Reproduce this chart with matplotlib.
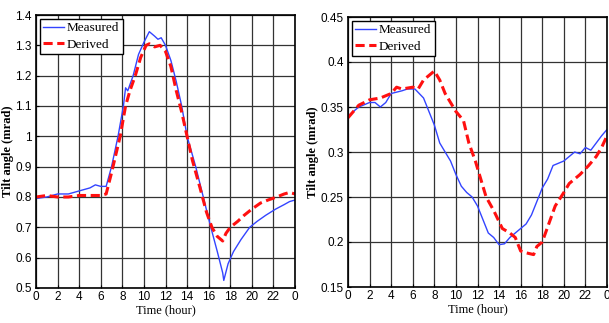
import matplotlib
matplotlib.use("Agg")
import matplotlib.pyplot as plt
from matplotlib import font_manager

# ---------------- data ----------------
hours_ticks = [0, 2, 4, 6, 8, 10, 12, 14, 16, 18, 20, 22, 24]
hour_tick_labels = ["0", "2", "4", "6", "8", "10", "12", "14", "16", "18", "20", "22", "0"]

left_meas_t = [0, 1, 2, 3, 4, 5, 5.5, 6, 6.5, 7, 7.6, 8.1, 8.3, 8.5, 9, 9.5, 10, 10.5,
               11, 11.3, 11.6, 12, 12.5, 13, 13.5, 14, 14.8, 15.5, 16.2, 16.8, 17.3,
               17.4, 17.8, 18.3, 19, 19.8, 20.5, 21.3, 22.2, 23, 23.5, 24]
left_meas_v = [0.795, 0.80, 0.81, 0.81, 0.82, 0.83, 0.84, 0.835, 0.835, 0.90, 1.0, 1.10,
               1.16, 1.15, 1.20, 1.27, 1.31, 1.345, 1.33, 1.32, 1.325, 1.30, 1.25, 1.18,
               1.10, 1.0, 0.90, 0.80, 0.70, 0.62, 0.55, 0.525, 0.58, 0.62, 0.66, 0.70,
               0.72, 0.74, 0.76, 0.775, 0.785, 0.79]

left_der_t = [0, 1, 2, 3, 4, 5, 6, 6.5, 7, 7.8, 8.3, 8.7, 9.2, 9.7, 10.2, 10.5, 11, 11.5,
              12, 12.5, 13, 13.5, 14, 14.5, 15.2, 15.8, 16.3, 16.8, 17.3, 17.6, 18, 18.7,
              19.3, 20, 20.8, 21.5, 22.3, 23, 23.5, 24]
left_der_v = [0.80, 0.805, 0.80, 0.80, 0.805, 0.805, 0.805, 0.81, 0.88, 1.0, 1.10, 1.15,
              1.20, 1.26, 1.30, 1.305, 1.295, 1.30, 1.28, 1.23, 1.15, 1.08, 1.0, 0.92,
              0.83, 0.75, 0.70, 0.67, 0.655, 0.68, 0.70, 0.72, 0.74, 0.76, 0.78, 0.79,
              0.80, 0.81, 0.815, 0.81]

right_meas_t = [0, 0.5, 1, 2, 2.5, 3, 3.5, 4, 5, 5.5, 6.2, 7, 7.5, 8, 8.5, 9, 9.5, 10,
                10.5, 11, 11.5, 12, 12.5, 13, 13.5, 14, 14.5, 15, 15.5, 16, 16.5, 17,
                17.5, 18, 18.5, 19, 20, 20.5, 21, 21.5, 22, 22.5, 23, 23.5, 24]
right_meas_v = [0.340, 0.345, 0.350, 0.355, 0.355, 0.350, 0.355, 0.365, 0.368, 0.370,
                0.370, 0.360, 0.345, 0.330, 0.310, 0.300, 0.290, 0.275, 0.262, 0.255,
                0.250, 0.240, 0.225, 0.210, 0.205, 0.197, 0.198, 0.205, 0.210, 0.215,
                0.220, 0.230, 0.245, 0.260, 0.270, 0.285, 0.290, 0.295, 0.300, 0.298,
                0.305, 0.302, 0.310, 0.318, 0.325]

right_der_t = [0, 0.5, 1, 2, 3, 4, 4.5, 5, 6, 6.5, 7, 7.5, 8, 8.5, 9, 9.5, 10, 10.7,
               11.2, 11.8, 12.3, 12.8, 13.5, 14.3, 15, 15.5, 16, 16.5, 17.2, 17.5, 18,
               18.6, 19.2, 20, 20.5, 21.5, 22.3, 23, 23.5, 24]
right_der_v = [0.338, 0.345, 0.352, 0.358, 0.360, 0.365, 0.372, 0.370, 0.372, 0.370,
               0.380, 0.385, 0.390, 0.380, 0.365, 0.355, 0.345, 0.335, 0.310, 0.290,
               0.270, 0.250, 0.235, 0.215, 0.210, 0.205, 0.190, 0.188, 0.186, 0.195,
               0.200, 0.220, 0.240, 0.255, 0.265, 0.275, 0.285, 0.295, 0.305, 0.318]

left_yticks = [0.5, 0.6, 0.7, 0.8, 0.9, 1.0, 1.1, 1.2, 1.3, 1.4]
left_ytick_labels = ["0.5", "0.6", "0.7", "0.8", "0.9", "1", "1.1", "1.2", "1.3", "1.4"]
right_yticks = [0.15, 0.2, 0.25, 0.3, 0.35, 0.4, 0.45]
right_ytick_labels = ["0.15", "0.2", "0.25", "0.3", "0.35", "0.4", "0.45"]

# ---------------- fonts ----------------
avail = {f.name for f in font_manager.fontManager.ttflist}
tick_font = "Liberation Sans Narrow" if "Liberation Sans Narrow" in avail else "Liberation Sans"
label_font = "Liberation Serif"

W, H = 609, 323
fig = plt.figure(figsize=(W / 100, H / 100), dpi=100)

def make_axes(rect, mt, mv, dt, dv, yticks, ylabels, ylim):
    ax = fig.add_axes(rect)
    ax.plot(mt, mv, color="#3344ff", lw=1.0, label="Measured")
    ax.plot(dt, dv, color="#ff1010", lw=2.2, ls=(0, (3.0, 1.5)), label="Derived")
    ax.set_xlim(0, 24)
    ax.set_ylim(*ylim)
    ax.set_xticks(hours_ticks)
    ax.set_xticklabels(hour_tick_labels, fontfamily=tick_font, fontsize=8.5)
    ax.set_yticks(yticks)
    ax.set_yticklabels(ylabels, fontfamily=tick_font, fontsize=8.5)
    ax.grid(True, color="#333333", lw=0.9)
    ax.tick_params(axis="x", length=2, width=0.8, pad=2, direction="in")
    ax.tick_params(axis="y", length=2, width=0.8, pad=3, direction="in")
    for s in ax.spines.values():
        s.set_linewidth(1.2)
    ax.set_xlabel("Time (hour)", fontfamily=label_font, fontsize=9, labelpad=1)
    ax.set_ylabel("Tilt angle (mrad)", fontfamily=label_font, fontsize=9,
                  fontweight="bold", labelpad=1)
    leg = ax.legend(loc="upper left", fancybox=False, framealpha=1, edgecolor="black",
                    prop={"family": label_font, "size": 9.5}, borderpad=0.25,
                    handlelength=1.6, handletextpad=0.2, labelspacing=0.3,
                    borderaxespad=0.3)
    leg.get_frame().set_linewidth(1.0)
    return ax

make_axes([36 / W, 1 - 288 / H, (295 - 36) / W, (288 - 15) / H],
          left_meas_t, left_meas_v, left_der_t, left_der_v,
          left_yticks, left_ytick_labels, (0.5, 1.4))
make_axes([348 / W, 1 - 287 / H, (607 - 348) / W, (287 - 17) / H],
          right_meas_t, right_meas_v, right_der_t, right_der_v,
          right_yticks, right_ytick_labels, (0.15, 0.45))

fig.savefig("out.png", dpi=100)
